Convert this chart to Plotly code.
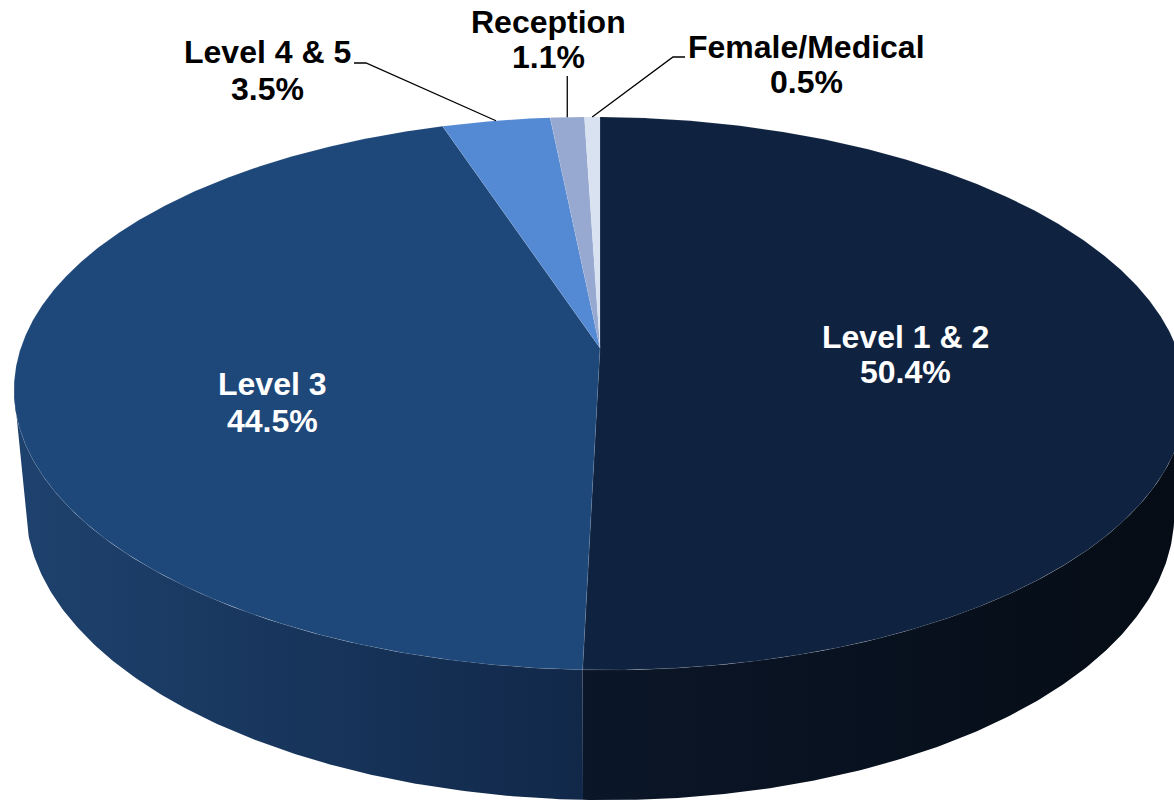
import math
import plotly.graph_objects as go

# ---------------- data ----------------
categories = ["Level 1 & 2", "Level 3", "Level 4 & 5", "Reception", "Female/Medical"]
shares = [50.4, 44.5, 3.5, 1.1, 0.5]
top_colors = ["#0F2340", "#1F487A", "#5489D4", "#97A9D1", "#D9E2F1"]
side_colors = [("#0B1628", "#050C15"), ("#1E426E", "#112849"),
               ("#3F6FB0", "#3A66A4"), ("#7D8FB5", "#7487AD"), ("#B8C2D6", "#AEB8CC")]
label_colors = ["white", "white", "black", "black", "black"]

# ---------------- layout / projection settings ----------------
W, H = 1174, 805
CX, CY = 600.0, 348.0      # screen position of pie centre
SIN_A = 0.4654             # camera tilt
COS_A = math.sqrt(1 - SIN_A ** 2)
L = 5.38                   # camera distance (pie radius = 1)
F = 3110.0                 # focal length in px
T = 0.23                   # pie thickness
SKEW = 0.006
FONT = "Liberation Sans, Arial, sans-serif"
FS = 32

# label anchor positions (centre x, baseline y) for name & value lines
label_pos = [(905, 348, 383), (272, 395, 432), (267, 63, 100), (548, 33, 68), (806, 58, 93)]
# leader elbows (label side) for outside labels
leader_start = {2: [(354, 63), (366, 63)], 3: [(None, 76)], 4: [(685, 57), (673, 57)]}


def proj(theta_deg, Y=0.0):
    th = math.radians(theta_deg)
    X, Z = math.sin(th), math.cos(th)
    d = L - Y * SIN_A + Z * COS_A
    v = Y * COS_A + Z * SIN_A
    x = CX + F * X / d
    y = CY - F * v / d
    y += SKEW * (x - CX)
    return x, y


def arc(a0, a1, Y=0.0, step=0.5):
    n = max(2, int(abs(a1 - a0) / step) + 1)
    return [proj(a0 + (a1 - a0) * i / (n - 1), Y) for i in range(n)]


total = sum(shares)
bounds = []
acc = 0.0
for s in shares:
    a0 = acc / total * 360.0
    acc += s
    bounds.append((a0, acc / total * 360.0))

fig = go.Figure()

# visible front side range (silhouette tangent angle)
th_t = math.degrees(math.acos(-COS_A / L))
for i, (a0, a1) in enumerate(bounds):
    s0, s1 = max(a0, th_t), min(a1, 360 - th_t)
    if s1 <= s0:
        continue
    top = arc(s0, s1, 0.0)
    bot = arc(s1, s0, -T)
    pts = top + bot + [top[0]]
    fig.add_trace(go.Scatter(
        x=[p[0] for p in pts], y=[p[1] for p in pts], mode="lines",
        fill="toself", line=dict(width=0, color=side_colors[i][0]),
        fillgradient=dict(type="horizontal",
                          colorscale=[[0, side_colors[i][0]], [1, side_colors[i][1]]]),
        hoverinfo="skip"))

# top faces
for i, (a0, a1) in enumerate(bounds):
    pts = [(CX, CY)] + arc(a0, a1, 0.0, step=0.25) + [(CX, CY)]
    fig.add_trace(go.Scatter(
        x=[p[0] for p in pts], y=[p[1] for p in pts], mode="lines",
        fill="toself", fillcolor=top_colors[i],
        line=dict(width=0.8, color="rgba(255,255,255,0.10)"),
        hoverinfo="skip"))

# leader lines
for i, pre in leader_start.items():
    a0, a1 = bounds[i]
    rx, ry = proj((a0 + a1) / 2, 0.0)
    xs, ys = [], []
    for (px, py) in pre:
        xs.append(rx if px is None else px)
        ys.append(py)
    xs.append(rx)
    ys.append(ry)
    fig.add_trace(go.Scatter(x=xs, y=ys, mode="lines",
                             line=dict(color="black", width=1.3), hoverinfo="skip"))

# labels
for i, name in enumerate(categories):
    cx, b1, b2 = label_pos[i]
    for txt, base in ((name, b1), (f"{shares[i]:.1f}%", b2)):
        fig.add_annotation(x=cx, y=base - 11, xref="x", yref="y", text=txt,
                           showarrow=False, xanchor="center", yanchor="middle",
                           font=dict(family=FONT, size=FS, color=label_colors[i],
                                     weight="bold"))

fig.update_layout(
    width=W, height=H,
    margin=dict(l=0, r=0, t=0, b=0),
    paper_bgcolor="white", plot_bgcolor="white", showlegend=False,
    hovermode=False,
    xaxis=dict(range=[0, W], visible=False, fixedrange=True),
    yaxis=dict(range=[H, 0], visible=False, fixedrange=True),
)
fig.write_html(
    "out.html",
    config={"displayModeBar": False, "staticPlot": True},
    post_script="document.body.style.margin='0';document.body.style.overflow='hidden';"
                "document.documentElement.style.overflow='hidden';",
)
